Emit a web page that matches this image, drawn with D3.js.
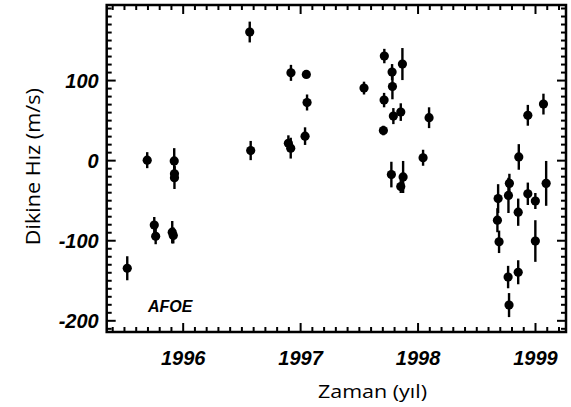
<!DOCTYPE html>
<html>
<head>
<meta charset="utf-8">
<script src="https://cdn.jsdelivr.net/npm/d3@7"></script>
<style>
  html, body { margin: 0; padding: 0; background: #fff; }
  svg { display: block; }
</style>
</head>
<body>
<div id="chart"></div>
<script>
// ---- Data ----
const years = [
  1995.528, 1995.698, 1995.758, 1995.770, 1995.928, 1995.930, 1995.930, 1995.911, 1995.920,
  1996.571, 1996.579, 1996.922, 1996.900, 1996.920, 1997.053, 1997.059, 1997.042,
  1997.544, 1997.717, 1997.871, 1997.783, 1997.786, 1997.715, 1997.794, 1997.857, 1998.098,
  1997.709, 1998.047, 1997.777, 1997.877, 1997.857,
  1998.686, 1998.680, 1998.694, 1998.782, 1998.774, 1998.771, 1998.779,
  1998.862, 1998.857, 1998.857, 1998.939, 1998.939, 1999.003, 1999.003, 1999.072, 1999.095
];
const velocities = [
  -135, 0, -81, -95, -1, -17, -22, -90, -94,
  160, 12, 109, 21, 15, 107, 72, 30,
  90, 130, 120, 110, 92, 75, 55, 60, 53,
  37, 3, -18, -21, -33,
  -48, -75, -102, -29, -44, -146, -181,
  4, -65, -140, 56, -42, -51, -101, 70, -29
];
const errors = [
  15, 10, 10, 10, 16, 10, 14, 14, 10,
  13, 12, 10, 10, 13, 4, 10, 11,
  8, 9, 20, 10, 16, 9, 10, 11, 13,
  6, 10, 16, 20, 8,
  18, 15, 14, 12, 22, 14, 15,
  16, 17, 15, 13, 14, 10, 26, 13, 28
];
const xTickValues = [1996, 1997, 1998, 1999];
const yTickValues = [-200, -100, 0, 100];
const xDomain = [1995.353, 1999.264];
const yDomain = [-214.6, 193.75];
const xTitle = "Zaman (yıl)";
const yTitle = "Dikine Hız (m/s)";
const tag = "AFOE";

// ---- Layout ----
const W = 571, H = 407;
const plot = { left: 106.7, top: 5, right: 566, bottom: 332 };

const svg = d3.select("#chart").append("svg")
  .attr("width", W).attr("height", H);

const x = d3.scaleLinear().domain(xDomain).range([plot.left, plot.right]);
const y = d3.scaleLinear().domain(yDomain).range([plot.bottom, plot.top]);

const xMinor = d3.range(13954, 19993, 1)
  .map(v => v / 10).filter(v => v >= xDomain[0] && v <= xDomain[1] && !xTickValues.includes(v));
const yMinor = d3.range(-210, 191, 10).filter(v => !yTickValues.includes(v));

const tickFont = "'Liberation Sans', Arial, sans-serif";
const plainFormat = d => String(d);   // hyphen-minus, as in the reference

function styleAxis(g) {
  g.select(".domain").remove();
  g.selectAll(".tick line").attr("stroke", "#000").attr("stroke-width", 2);
  g.selectAll("text")
    .attr("fill", "#000")
    .style("font-family", tickFont)
    .style("font-size", "20px")
    .style("font-weight", "bold")
    .style("font-style", "italic");
}

// Minor ticks on four sides
svg.append("g").attr("transform", `translate(0,${plot.bottom})`)
  .call(d3.axisBottom(x).tickValues(xMinor).tickSize(-5).tickFormat(""))
  .call(styleAxis);
svg.append("g").attr("transform", `translate(0,${plot.top})`)
  .call(d3.axisTop(x).tickValues(xMinor).tickSize(-5).tickFormat(""))
  .call(styleAxis);
svg.append("g").attr("transform", `translate(${plot.left},0)`)
  .call(d3.axisLeft(y).tickValues(yMinor).tickSize(-5).tickFormat(""))
  .call(styleAxis);
svg.append("g").attr("transform", `translate(${plot.right},0)`)
  .call(d3.axisRight(y).tickValues(yMinor).tickSize(-5).tickFormat(""))
  .call(styleAxis);

// Major ticks
svg.append("g").attr("transform", `translate(0,${plot.bottom})`)
  .call(d3.axisBottom(x).tickValues(xTickValues).tickSize(-9).tickPadding(19).tickFormat(plainFormat))
  .call(styleAxis);
svg.append("g").attr("transform", `translate(0,${plot.top})`)
  .call(d3.axisTop(x).tickValues(xTickValues).tickSize(-9).tickFormat(""))
  .call(styleAxis);
svg.append("g").attr("transform", `translate(${plot.left},0)`)
  .call(d3.axisLeft(y).tickValues(yTickValues).tickSize(-9).tickPadding(8).tickFormat(plainFormat))
  .call(styleAxis)
  .call(g => g.selectAll("text").attr("dy", "0.36em"));
svg.append("g").attr("transform", `translate(${plot.right},0)`)
  .call(d3.axisRight(y).tickValues(yTickValues).tickSize(-9).tickFormat(""))
  .call(styleAxis);

// Frame
svg.append("rect")
  .attr("x", plot.left).attr("y", plot.top)
  .attr("width", plot.right - plot.left).attr("height", plot.bottom - plot.top)
  .attr("fill", "none").attr("stroke", "#000").attr("stroke-width", 2.5);

// Data
const data = years.map((yr, i) => ({ yr, v: velocities[i], e: errors[i] }));
const pts = svg.append("g");
pts.selectAll("line.err").data(data).join("line")
  .attr("class", "err")
  .attr("x1", d => x(d.yr)).attr("x2", d => x(d.yr))
  .attr("y1", d => y(d.v - d.e)).attr("y2", d => y(d.v + d.e))
  .attr("stroke", "#000").attr("stroke-width", 2.4);
pts.selectAll("circle").data(data).join("circle")
  .attr("cx", d => x(d.yr)).attr("cy", d => y(d.v))
  .attr("r", 4.6).attr("fill", "#000");

// Tag
svg.append("text")
  .attr("x", 148).attr("y", 312)
  .style("font-family", tickFont).style("font-size", "16px")
  .style("font-weight", "bold").style("font-style", "italic")
  .text(tag);

// Axis titles
const titleFont = "'Open Sans', 'DejaVu Sans', sans-serif";
svg.append("text")
  .attr("x", 372.5).attr("y", 398)
  .attr("text-anchor", "middle")
  .attr("textLength", 109).attr("lengthAdjust", "spacingAndGlyphs")
  .style("font-family", titleFont).style("font-size", "18.5px")
  .text(xTitle);
svg.append("text")
  .attr("transform", "translate(40,166.7) rotate(-90)")
  .attr("text-anchor", "middle")
  .attr("textLength", 157).attr("lengthAdjust", "spacingAndGlyphs")
  .style("font-family", titleFont).style("font-size", "20px")
  .text(yTitle);
</script>
</body>
</html>
